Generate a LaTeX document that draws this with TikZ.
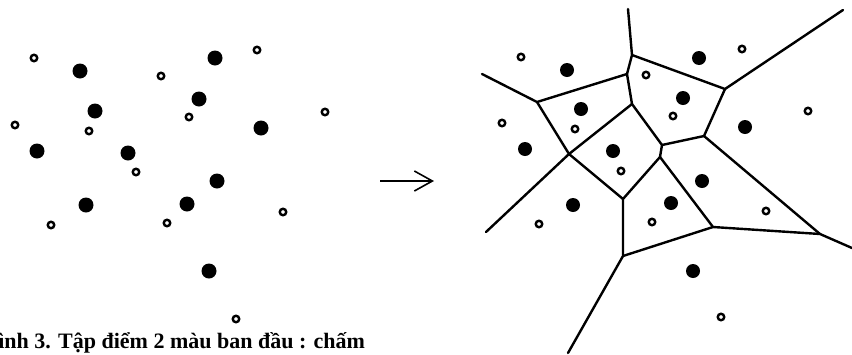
\documentclass[tikz,border=0pt]{standalone}
\usepackage{fontspec}
\setmainfont{Liberation Serif}
\usetikzlibrary{arrows.meta}
\tikzset{
  fdot/.style={circle, fill=black, inner sep=0pt, minimum size=15pt},
  fdotr/.style={circle, fill=black, inner sep=0pt, minimum size=14pt},
  odot/.style={circle, draw=black, line width=2.4pt, fill=white, inner sep=0pt, minimum size=6.5pt},
  vedge/.style={line width=2.4pt, line cap=round, line join=round},
  bigarrow/.style={line width=1.6pt, -{Straight Barb[length=18pt, width=20pt, line width=1.6pt]}}
}
\begin{document}
\begin{tikzpicture}[x=1pt, y=-1pt]
\useasboundingbox (0,0) rectangle (852,354);
% ---------- left point set ----------
\node[odot] (lo1) at (34,58) {};
\node[odot] (lo2) at (161,76) {};
\node[odot] (lo3) at (257,50) {};
\node[odot] (lo4) at (15,125) {};
\node[odot] (lo5) at (89,131) {};
\node[odot] (lo6) at (189,117) {};
\node[odot] (lo7) at (325,112) {};
\node[odot] (lo8) at (136,172) {};
\node[odot] (lo9) at (51,225) {};
\node[odot] (lo10) at (167,223) {};
\node[odot] (lo11) at (283,212) {};
\node[odot] (lo12) at (236,319) {};
\node[fdot] (lf1) at (80,71) {};
\node[fdot] (lf2) at (215,58) {};
\node[fdot] (lf3) at (95,111) {};
\node[fdot] (lf4) at (199,99) {};
\node[fdot] (lf5) at (261,128) {};
\node[fdot] (lf6) at (37,151) {};
\node[fdot] (lf7) at (128,153) {};
\node[fdot] (lf8) at (217,181) {};
\node[fdot] (lf9) at (86,205) {};
\node[fdot] (lf10) at (187,204) {};
\node[fdot] (lf11) at (209,271) {};
% ---------- arrow ----------
\coordinate (a1) at (380,181);
\coordinate (a2) at (434,181);
\draw[bigarrow] (a1) -- (a2);
% ---------- Voronoi diagram ----------
\coordinate (T1) at (628,9);
\coordinate (V1) at (632,55);
\coordinate (V2) at (627,74);
\coordinate (V3) at (632,104);
\coordinate (V4) at (725,89);
\coordinate (TR) at (843,10);
\coordinate (V5) at (704,136);
\coordinate (V6) at (662,145);
\coordinate (V11) at (660,157);
\coordinate (V7) at (569,154);
\coordinate (L1) at (482,74);
\coordinate (V8) at (537,102);
\coordinate (LL) at (486,232);
\coordinate (V9) at (623,199);
\coordinate (V12) at (713,227);
\coordinate (V13) at (820,234);
\coordinate (R1) at (852,248);
\coordinate (V14) at (623,256);
\coordinate (B1) at (568,353);
\draw[vedge] (T1) -- (V1) -- (V2) -- (V3);
\draw[vedge] (V1) -- (V4) -- (TR);
\draw[vedge] (V4) -- (V5) -- (V6);
\draw[vedge] (V3) -- (V6) -- (V11);
\draw[vedge] (V3) -- (V7);
\draw[vedge] (L1) -- (V8) -- (V2);
\draw[vedge] (V8) -- (V7) -- (LL);
\draw[vedge] (V7) -- (V9);
\draw[vedge] (V11) -- (V9) -- (V14) -- (B1);
\draw[vedge] (V11) -- (V12) -- (V13) -- (R1);
\draw[vedge] (V5) -- (V13);
\draw[vedge] (V14) -- (V12);
% ---------- right point set ----------
\node[odot] (ro1) at (521,57) {};
\node[odot] (ro2) at (742,49) {};
\node[odot] (ro3) at (646,75) {};
\node[odot] (ro4) at (502,123) {};
\node[odot] (ro5) at (575,129) {};
\node[odot] (ro6) at (673,116) {};
\node[odot] (ro7) at (808,111) {};
\node[odot] (ro8) at (621,171) {};
\node[odot] (ro9) at (539,224) {};
\node[odot] (ro10) at (652,222) {};
\node[odot] (ro11) at (766,211) {};
\node[odot] (ro12) at (721,317) {};
\node[fdotr] (rf1) at (567,70) {};
\node[fdotr] (rf2) at (699,58) {};
\node[fdotr] (rf3) at (581,109) {};
\node[fdotr] (rf4) at (683,98) {};
\node[fdotr] (rf5) at (745,127) {};
\node[fdotr] (rf6) at (525,149) {};
\node[fdotr] (rf7) at (613,151) {};
\node[fdotr] (rf8) at (702,181) {};
\node[fdotr] (rf9) at (573,205) {};
\node[fdotr] (rf10) at (671,203) {};
\node[fdotr] (rf11) at (693,271) {};
% ---------- caption ----------
\node[anchor=base west, inner sep=0pt, font=\fontsize{22}{26}\selectfont\bfseries] (cap) at (-19,348) {Hình 3. Tập điểm 2 màu ban đầu : chấm};
\end{tikzpicture}
\end{document}
